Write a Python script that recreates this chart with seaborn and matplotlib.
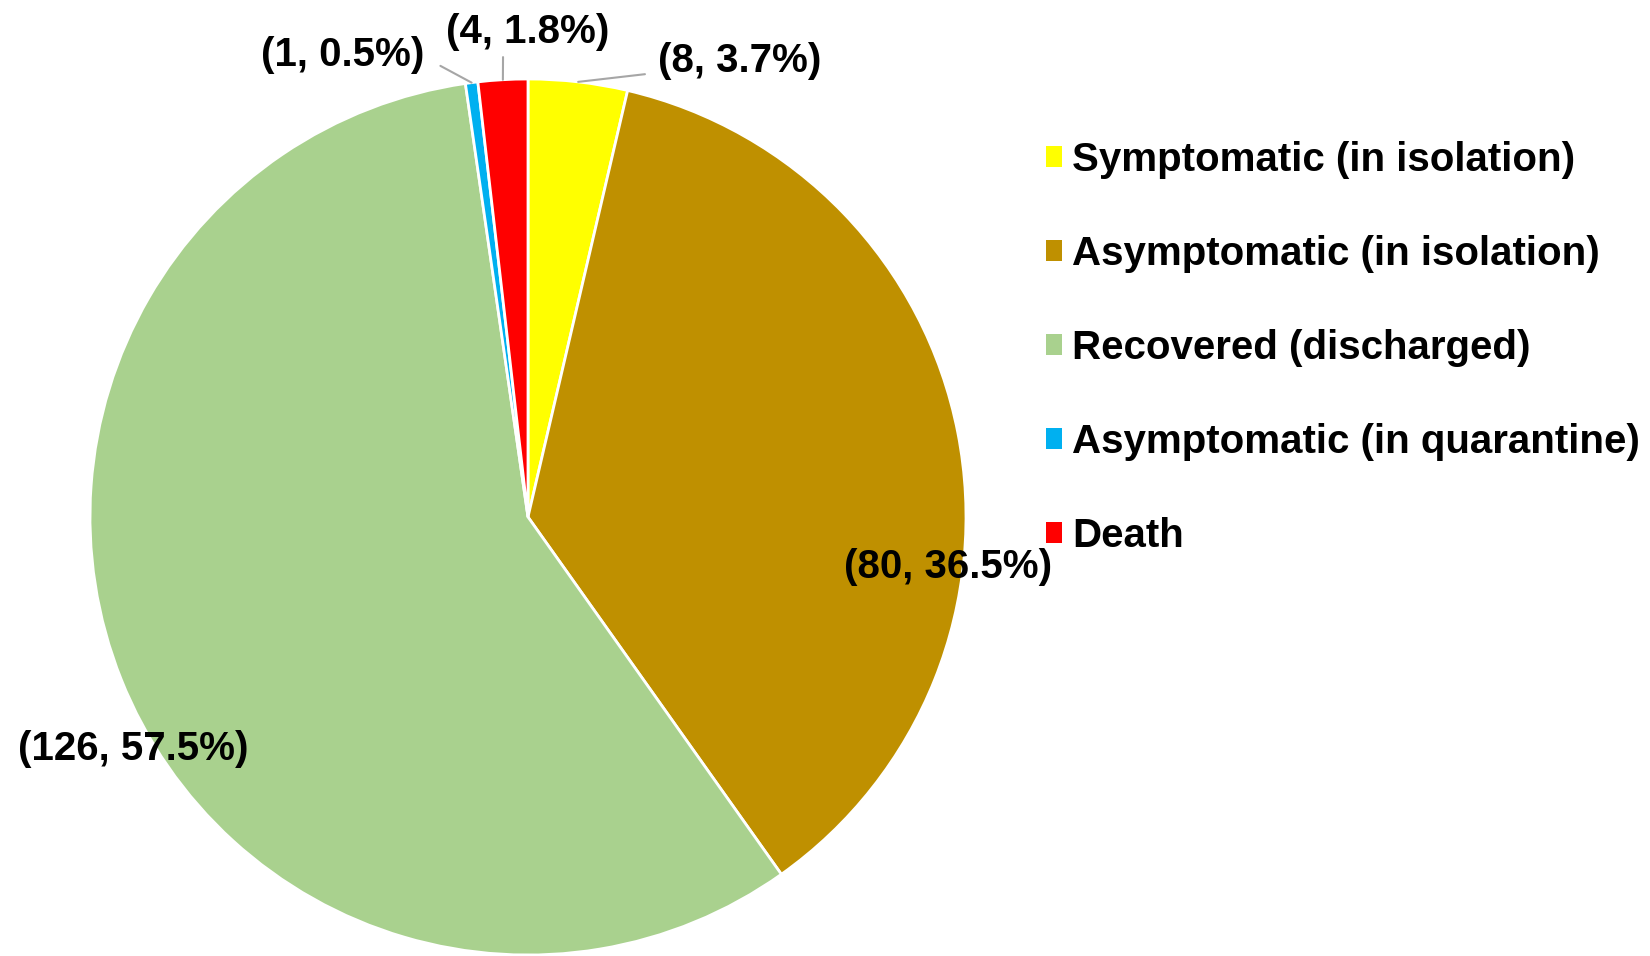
import numpy as np
import matplotlib.pyplot as plt
import seaborn as sns
from matplotlib.patches import Patch

## DATA
categories = ['Symptomatic (in isolation)', 'Asymptomatic (in isolation)',
              'Recovered (discharged)', 'Asymptomatic (in quarantine)', 'Death']
counts = [8, 80, 126, 1, 4]
percents = [3.7, 36.5, 57.5, 0.5, 1.8]
colors = ['#FFFF00', '#BF9000', '#A9D18E', '#00B0F0', '#FF0000']

# label placement (pie radius = 1), and where leader lines start (None = no leader)
label_pos = [(0.484, 1.041), (0.959, -0.114), (-0.902, -0.530), (-0.422, 1.055), (0.0, 1.107)]
leader_start = [(0.267, 1.011), None, None, (-0.20, 1.03), (-0.057, 1.05)]

sns.set_theme(style='white')
plt.rcParams['font.family'] = ['Liberation Sans', 'DejaVu Sans']

fig = plt.figure(figsize=(16.5, 9.56), dpi=100)
ax = fig.add_axes([0, 0, 1, 1])

wedges, _ = ax.pie(counts, colors=colors, startangle=90, counterclock=False,
                   radius=1, wedgeprops=dict(edgecolor='white', linewidth=2))

for w, n, p, (lx, ly), ls in zip(wedges, counts, percents, label_pos, leader_start):
    ax.text(lx, ly, f'({n}, {p}%)', ha='center', va='center',
            fontsize=29, fontweight='bold', color='black')
    if ls is not None:
        mid = np.deg2rad((w.theta1 + w.theta2) / 2)
        ax.plot([ls[0], np.cos(mid)], [ls[1], np.sin(mid)], color='#A6A6A6', lw=1.5)

ax.set_xlim(-528 / 438, (1650 - 528) / 438)
ax.set_ylim((517 - 956) / 438, 517 / 438)
ax.set_aspect('auto')
ax.axis('off')

handles = [Patch(facecolor=c, edgecolor='none') for c in colors]
leg = fig.legend(handles, categories, loc='center left', bbox_to_anchor=(0.634, 0.636),
                 frameon=False, borderpad=0, borderaxespad=0,
                 handlelength=0.4, handleheight=0.4, handletextpad=0.25,
                 labelspacing=1.39, labelcolor='black', prop=dict(size=29, weight='bold'))

fig.savefig('out.png', dpi=100, facecolor='white')
